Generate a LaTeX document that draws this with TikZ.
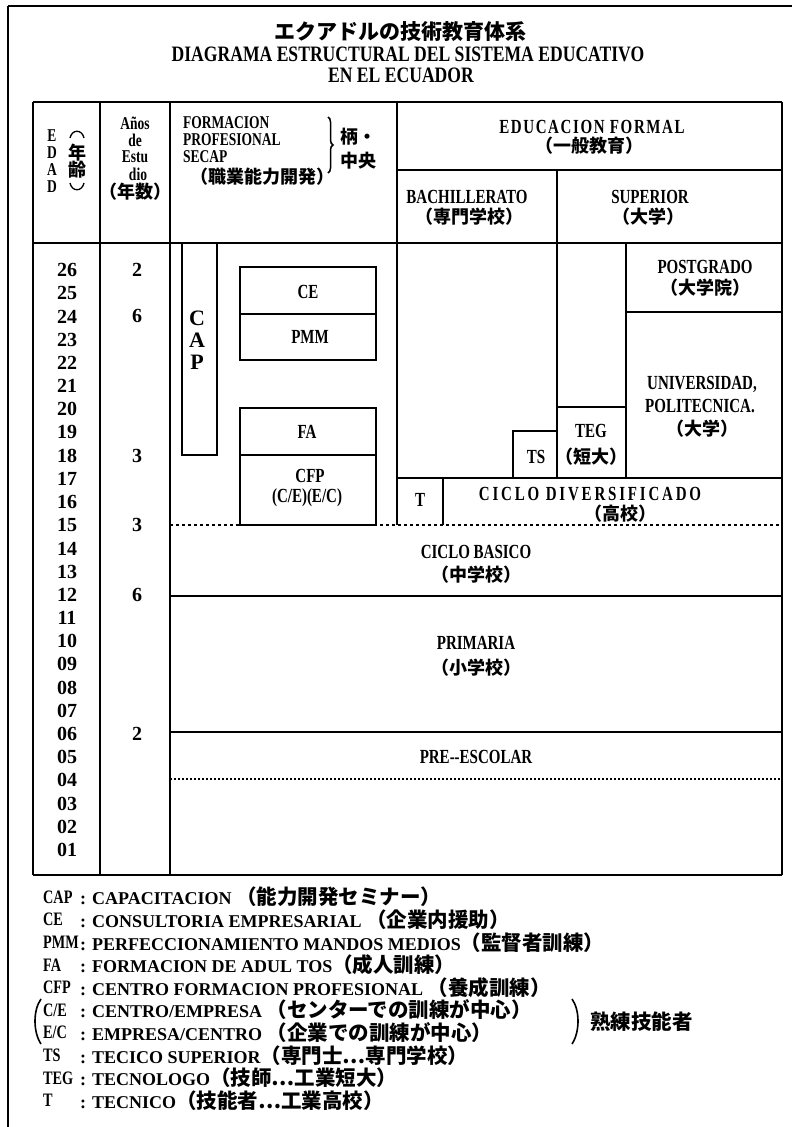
\documentclass[tikz,border=0pt]{standalone}
\usepackage{fontspec}
\usetikzlibrary{decorations.pathreplacing}
\setmainfont{Liberation Serif}
\newfontfamily\lat{Liberation Serif}[FakeStretch=0.75]
\newfontfamily\ttlat{Liberation Serif}[FakeStretch=0.8]
\newfontfamily\jp{Noto Sans CJK JP}
\newcommand{\J}[1]{{\jp\fontsize{18}{18}\selectfont #1}}
\newcommand{\LJ}[1]{{\jp\fontsize{20.5}{20.5}\selectfont #1}}
\newcommand{\wide}[2]{{\addfontfeature{LetterSpace=#1}#2}}
\tikzset{
  vl/.style={line width=2.7pt},
  hl/.style={line width=1.5pt},
  bx/.style={line width=1.6pt},
  ttl/.style={font=\ttlat\bfseries\fontsize{22}{22}\selectfont, inner sep=0pt},
  ttlj/.style={font=\jp\bfseries\fontsize{21}{21}\selectfont, inner sep=0pt},
  hd/.style={font=\lat\bfseries\fontsize{20}{20}\selectfont, inner sep=0pt},
  st/.style={font=\lat\bfseries\fontsize{18}{18}\selectfont, inner sep=0pt},
  stw/.style={st, anchor=west},
  big/.style={font=\bfseries\fontsize{22}{22}\selectfont, inner sep=0pt},
  num/.style={font=\bfseries\fontsize{20}{20}\selectfont, inner sep=0pt},
  lg/.style={font=\bfseries\fontsize{18}{18}\selectfont, inner sep=0pt, anchor=west},
  lga/.style={font=\lat\bfseries\fontsize{19}{19}\selectfont, inner sep=0pt, anchor=west},
}
\begin{document}
\begin{tikzpicture}[x=1pt,y=-1pt]
\fill[white] (0,0) rectangle (792,1127);
\useasboundingbox (0,0) rectangle (792,1127);
% outer frame
\draw[line width=2.7pt] (8,6) -- (8,1127);
\draw[line width=1.5pt] (8,6) -- (792,6);
% title
\node[ttlj] (t1) at (400,32) {エクアドルの技術教育体系};
\node[ttl] (t2) at (408,54) {DIAGRAMA ESTRUCTURAL DEL SISTEMA EDUCATIVO};
\node[ttl] (t3) at (401,75) {EN EL ECUADOR};
% table frame
\draw[hl] (33,102) -- (782,102);
\draw[hl] (33,243) -- (782,243);
\draw[hl] (397,170) -- (782,170);
\draw[hl] (33,875) -- (782,875);
\draw[vl] (33,102) -- (33,875);
\draw[vl] (100,102) -- (100,875);
\draw[vl] (170,102) -- (170,875);
\draw[vl] (782,102) -- (782,875);
\draw[vl] (397,102) -- (397,525);
\draw[vl] (557,170) -- (557,478);
\draw[vl] (626,243) -- (626,478);
\draw[hl] (626,312) -- (782,312);
\draw[hl] (397,478) -- (782,478);
\draw[vl] (443,478) -- (443,525);
\draw[line width=1.3pt, dash pattern=on 3pt off 3pt] (170,525) -- (782,525);
\draw[hl] (170,596) -- (782,596);
\draw[hl] (170,732) -- (782,732);
\draw[line width=1.2pt, dash pattern=on 2pt off 2pt] (170,779) -- (782,779);
% SECAP boxes
\draw[bx] (182,243) rectangle (217,455);
\draw[bx] (240,267) rectangle (376,360);
\draw[bx] (240,314) -- (376,314);
\draw[bx] (240,408) rectangle (376,525);
\draw[bx] (240,455) -- (376,455);
% TS / TEG
\draw[bx] (513,478) -- (513,431) -- (557,431);
\draw[bx] (557,407) -- (626,407);
% header: EDAD
\node[st] (e1) at (52,136) {E};
\node[st] (e2) at (52,153) {D};
\node[st] (e3) at (52,170) {A};
\node[st] (e4) at (52,187) {D};
\draw[line width=1.3pt] (70,138) .. controls (72,129) and (82,129) .. (84,138);
\draw[line width=1.3pt] (70,183) .. controls (72,192) and (82,192) .. (84,183);
\node[st] (n1) at (77,153) {\J{年}};
\node[st] (n2) at (77,170) {\J{齢}};
% header: years
\node[st] (y1) at (135,123) {Años};
\node[st] (y2) at (135,140) {de};
\node[st] (y3) at (135,157) {Estu};
\node[st] (y4) at (138,174) {dio};
\node[st] (y5) at (135,192) {\J{（年数）}};
% header: SECAP
\node[stw] (f1) at (183,123) {FORMACION};
\node[stw] (f2) at (183,140) {PROFESIONAL};
\node[stw] (f3) at (183,157) {SECAP};
\node[st] (f4) at (262,177) {\J{（職業能力開発）}};
\draw[line width=1.5pt, decorate, decoration={brace, amplitude=5pt}] (328,117) -- (328,173);
\node[st] (s1) at (358,137) {\J{柄・}};
\node[st] (s2) at (358,161) {\J{中央}};
% header: formal
\node[hd] (g1) at (592,127) {\wide{8}{EDUCACION FORMAL}};
\node[hd] (g2) at (589,146) {\J{（一般教育）}};
\node[hd] (b1) at (467,197) {BACHILLERATO};
\node[hd] (b2) at (469,217) {\J{（専門学校）}};
\node[hd] (u1) at (650,197) {SUPERIOR};
\node[hd] (u2) at (648,217) {\J{（大学）}};
% ages
\foreach \a [count=\i from 0] in {26,25,24,23,22,21,20,19,18,17,16,15,14,13,12,11,10,09,08,07,06,05,04,03,02,01}
  \node[num] (age\i) at (67,{270+23.2*\i}) {\a};
% years
\node[num] (ya) at (137,270) {2};
\node[num] (yb) at (137,316) {6};
\node[num] (yc) at (137,456) {3};
\node[num] (yd) at (137,525) {3};
\node[num] (ye) at (137,595) {6};
\node[num] (yf) at (137,734) {2};
% SECAP body
\node[big] (c1) at (197,318) {C};
\node[big] (c2) at (197,340) {A};
\node[big] (c3) at (197,362) {P};
\node[hd] (ce) at (308,292) {CE};
\node[hd] (pmm) at (310,337) {PMM};
\node[hd] (fa) at (307,432) {FA};
\node[hd] (cfp) at (310,476) {CFP};
\node[hd] (cecp) at (307,498) {(C/E)(E/C)};
% formal body
\node[hd] (pg1) at (705,267) {POSTGRADO};
\node[hd] (pg2) at (705,288) {\J{（大学院）}};
\node[hd] (un1) at (702,384) {UNIVERSIDAD,};
\node[hd] (un2) at (700,406) {POLITECNICA.};
\node[hd] (un3) at (702,429) {\J{（大学）}};
\node[hd] (teg1) at (591,431) {TEG};
\node[hd] (teg2) at (591,457) {\J{（短大）}};
\node[hd] (ts) at (536,457) {TS};
\node[hd] (tt) at (420,500) {T};
\node[hd] (cd1) at (590,494) {\wide{14}{CICLO DIVERSIFICADO}};
\node[hd] (cd2) at (620,514) {\J{（高校）}};
\node[hd] (cb1) at (476,552) {CICLO BASICO};
\node[hd] (cb2) at (476,575) {\J{（中学校）}};
\node[hd] (pr1) at (476,643) {PRIMARIA};
\node[hd] (pr2) at (476,668) {\J{（小学校）}};
\node[hd] (pe) at (476,757) {PRE-{}-ESCOLAR};
% legend
\node[lga] (l1a) at (43,897) {CAP};
\node[lg] (l1b) at (80,897) {: CAPACITACION \LJ{（能力開発セミナー）}};
\node[lga] (l2a) at (43,919.6) {CE};
\node[lg] (l2b) at (80,919.6) {: CONSULTORIA EMPRESARIAL \LJ{（企業内援助）}};
\node[lga] (l3a) at (43,942.2) {PMM};
\node[lg] (l3b) at (80,942.2) {: PERFECCIONAMIENTO MANDOS MEDIOS\LJ{（監督者訓練）}};
\node[lga] (l4a) at (43,964.8) {FA};
\node[lg] (l4b) at (80,964.8) {: FORMACION DE ADUL TOS\LJ{（成人訓練）}};
\node[lga] (l5a) at (43,987.4) {CFP};
\node[lg] (l5b) at (80,987.4) {: CENTRO FORMACION PROFESIONAL \LJ{（養成訓練）}};
\node[lga] (l6a) at (43,1010) {C/E};
\node[lg] (l6b) at (80,1010) {: CENTRO/EMPRESA \LJ{（センターでの訓練が中心）}};
\node[lga] (l7a) at (43,1032.6) {E/C};
\node[lg] (l7b) at (80,1032.6) {: EMPRESA/CENTRO \LJ{（企業での訓練が中心）}};
\node[lga] (l8a) at (43,1055.2) {TS};
\node[lg] (l8b) at (80,1055.2) {: TECICO SUPERIOR\LJ{（専門士…専門学校）}};
\node[lga] (l9a) at (43,1077.8) {TEG};
\node[lg] (l9b) at (80,1077.8) {: TECNOLOGO\LJ{（技師…工業短大）}};
\node[lga] (l10a) at (43,1100.4) {T};
\node[lg] (l10b) at (80,1100.4) {: TECNICO\LJ{（技能者…工業高校）}};
\draw[line width=1.6pt] (41,999) .. controls (33,1010) and (33,1032) .. (41,1044);
\draw[line width=1.6pt] (572,999) .. controls (580,1010) and (580,1032) .. (572,1044);
\node[font=\jp\bfseries\fontsize{20.5}{20.5}\selectfont, inner sep=0pt, anchor=west] (jk) at (590,1022) {熟練技能者};
\end{tikzpicture}
\end{document}
